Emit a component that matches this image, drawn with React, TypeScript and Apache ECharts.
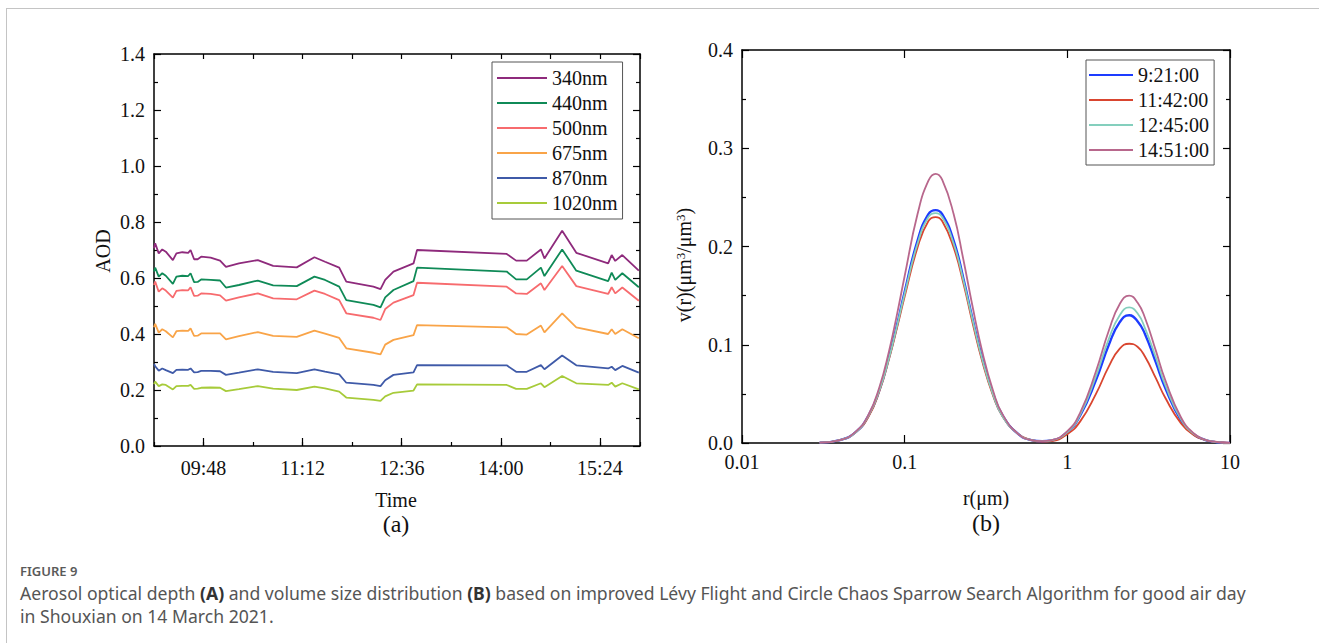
import React, { useEffect, useRef } from "react";
import * as echarts from "echarts";

// ---------- Panel (a): AOD time series ----------
const times = [
  "09:06", "09:07", "09:10", "09:13", "09:16", "09:22", "09:25", "09:30", "09:35", "09:37",
  "09:40", "09:43", "09:46", "09:54", "10:02", "10:07", "10:18", "10:34", "10:47", "11:07",
  "11:22", "11:31", "11:43", "11:49", "12:12", "12:18", "12:22", "12:29", "12:46", "12:49",
  "14:05", "14:13", "14:22", "14:34", "14:37", "14:52", "15:04", "15:31", "15:34", "15:37",
  "15:43", "15:57",
];
const aod340 = [
  0.706, 0.724, 0.688, 0.702, 0.694, 0.664, 0.688, 0.692, 0.69, 0.70,
  0.667, 0.667, 0.676, 0.673, 0.662, 0.640, 0.652, 0.664, 0.643, 0.638,
  0.674, 0.658, 0.637, 0.587, 0.569, 0.56, 0.593, 0.623, 0.652, 0.70,
  0.686, 0.662, 0.662, 0.702, 0.670, 0.769, 0.690, 0.652, 0.682, 0.661,
  0.682, 0.626,
];
const aod440 = [
  0.623, 0.637, 0.605, 0.617, 0.608, 0.579, 0.605, 0.608, 0.607, 0.617,
  0.585, 0.586, 0.595, 0.593, 0.591, 0.566, 0.575, 0.591, 0.574, 0.571,
  0.605, 0.593, 0.569, 0.521, 0.504, 0.495, 0.531, 0.557, 0.589, 0.637,
  0.623, 0.595, 0.595, 0.637, 0.607, 0.702, 0.626, 0.589, 0.619, 0.593,
  0.617, 0.567,
];
const aod500 = [
  0.575, 0.587, 0.551, 0.563, 0.555, 0.530, 0.554, 0.557, 0.556, 0.567,
  0.536, 0.537, 0.545, 0.543, 0.538, 0.519, 0.531, 0.545, 0.527, 0.524,
  0.555, 0.543, 0.521, 0.474, 0.458, 0.450, 0.489, 0.512, 0.539, 0.583,
  0.569, 0.545, 0.543, 0.581, 0.557, 0.643, 0.571, 0.543, 0.567, 0.545,
  0.566, 0.519,
];
const aod675 = [
  0.424, 0.436, 0.405, 0.417, 0.41, 0.388, 0.41, 0.412, 0.411, 0.420,
  0.393, 0.394, 0.402, 0.402, 0.402, 0.381, 0.392, 0.407, 0.393, 0.39,
  0.412, 0.401, 0.386, 0.349, 0.333, 0.327, 0.362, 0.379, 0.396, 0.432,
  0.424, 0.40, 0.398, 0.43, 0.406, 0.474, 0.424, 0.40, 0.417, 0.40,
  0.417, 0.385,
];
const aod870 = [
  0.293, 0.285, 0.269, 0.277, 0.271, 0.26, 0.272, 0.273, 0.272, 0.277,
  0.263, 0.264, 0.268, 0.268, 0.267, 0.254, 0.262, 0.274, 0.265, 0.26,
  0.274, 0.266, 0.256, 0.226, 0.218, 0.214, 0.235, 0.254, 0.263, 0.289,
  0.288, 0.265, 0.265, 0.289, 0.274, 0.323, 0.288, 0.277, 0.283, 0.271,
  0.286, 0.262,
];
const aod1020 = [
  0.221, 0.23, 0.214, 0.22, 0.218, 0.202, 0.214, 0.215, 0.215, 0.218,
  0.204, 0.205, 0.208, 0.209, 0.208, 0.196, 0.203, 0.214, 0.205, 0.2,
  0.212, 0.206, 0.194, 0.173, 0.165, 0.161, 0.177, 0.19, 0.198, 0.22,
  0.218, 0.204, 0.204, 0.224, 0.21, 0.25, 0.224, 0.218, 0.226, 0.212,
  0.224, 0.202,
];
const wavelengthNames = ["340nm", "440nm", "500nm", "675nm", "870nm", "1020nm"];
const aodSeries = [aod340, aod440, aod500, aod675, aod870, aod1020];

// ---------- Panel (b): volume size distribution ----------
const radii = [
  0.03, 0.04, 0.05, 0.06, 0.07, 0.08, 0.09, 0.1, 0.12, 0.14, 0.155, 0.17, 0.2, 0.23, 0.26,
  0.3, 0.35, 0.4, 0.5, 0.6, 0.7, 0.8, 1.0, 1.2, 1.5, 1.8, 2.1, 2.4, 2.7, 3.0, 3.5, 4, 5, 6,
  7, 8, 9, 10,
];
const vr0921 = [
  0.0003, 0.003, 0.011, 0.028, 0.054, 0.087, 0.121, 0.154, 0.206, 0.233, 0.237, 0.233, 0.206, 0.167, 0.128,
  0.086, 0.050, 0.028, 0.009, 0.003, 0.0018, 0.0026, 0.011, 0.028, 0.064, 0.100, 0.123, 0.130, 0.124, 0.111,
  0.082, 0.056, 0.023, 0.0087, 0.0033, 0.0012, 0.0004, 0.0001,
];
const vr1142 = [
  0.0003, 0.003, 0.011, 0.027, 0.053, 0.085, 0.118, 0.149, 0.199, 0.226, 0.230, 0.226, 0.199, 0.162, 0.124,
  0.083, 0.048, 0.027, 0.009, 0.003, 0.0015, 0.002, 0.009, 0.022, 0.050, 0.078, 0.096, 0.101, 0.098, 0.088,
  0.066, 0.046, 0.020, 0.008, 0.0032, 0.0013, 0.0005, 0.0001,
];
const vr1245 = [
  0.0003, 0.003, 0.011, 0.028, 0.054, 0.086, 0.120, 0.152, 0.203, 0.230, 0.234, 0.230, 0.203, 0.165, 0.127,
  0.085, 0.049, 0.027, 0.009, 0.003, 0.0019, 0.0028, 0.011, 0.029, 0.068, 0.106, 0.130, 0.138, 0.132, 0.117,
  0.087, 0.059, 0.024, 0.0091, 0.0034, 0.0012, 0.0004, 0.0001,
];
const vr1451 = [
  0.0003, 0.003, 0.0115, 0.029, 0.057, 0.093, 0.132, 0.170, 0.233, 0.267, 0.274, 0.268, 0.233, 0.186, 0.141,
  0.093, 0.053, 0.029, 0.009, 0.003, 0.002, 0.003, 0.012, 0.031, 0.073, 0.1145, 0.1415, 0.150, 0.143, 0.1275,
  0.094, 0.064, 0.026, 0.0097, 0.0036, 0.0013, 0.0005, 0.0001,
];
const timeNames = ["9:21:00", "11:42:00", "12:45:00", "14:51:00"];
const vrSeries = [vr0921, vr1142, vr1245, vr1451];

const aodColors = ["#8e2a7c", "#0f8a57", "#f76b6e", "#f9a448", "#3f5aa8", "#a7cb3a"];
const vrColors = ["#1d3cff", "#d9452f", "#84cfbd", "#b8678c"];

const SERIF = "Liberation Serif";
const SANS = "Noto Sans";

const toMin = (s: string) => {
  const [h, m] = s.split(":").map(Number);
  return h * 60 + m;
};
const pad = (n: number) => (n < 10 ? "0" + n : String(n));
const fmtTime = (v: number) => pad(Math.floor(v / 60)) + ":" + pad(Math.round(v % 60));

export default function App() {
  const ref = useRef<HTMLDivElement>(null);

  useEffect(() => {
    if (!ref.current) return;
    const chart = echarts.init(ref.current, null, { renderer: "svg" });

    const tMin = 546; // 09:06
    const tMax = 958;
    const A = { left: 154, top: 54, width: 486, height: 392 };
    const B = { left: 742, top: 50, width: 488, height: 393 };
    const pxPerMin = A.width / (tMax - tMin);
    const majorStart = 588; // 09:48
    const majorEnd = 924; // 15:24

    const tickStyle = { color: "#000", width: 1.2 };
    const lineStyle = { color: "#000", width: 1.5 };
    const labelStyle = { fontFamily: SERIF, fontSize: 20, color: "#111" };
    const g = (o: any) => ({ containLabel: false, outerBoundsMode: "none", ...o });
    const hiddenX = (gi: number) => ({ gridIndex: gi, type: "value", min: 0, max: 1, show: false });
    const hiddenY = (gi: number) => ({ gridIndex: gi, type: "value", min: 0, max: 1, show: false });

    const option: any = {
      animation: false,
      backgroundColor: "#fff",
      grid: [
        g({ ...A }),
        g({ ...B }),
        g({ left: A.left + (majorStart - tMin) * pxPerMin, top: A.top, width: (majorEnd - majorStart) * pxPerMin, height: A.height }),
        g({ left: A.left + A.width, top: A.top, width: 20, height: A.height }),
        g({ left: A.left, top: A.top - 20, width: A.width, height: 20 }),
        g({ left: B.left + B.width, top: B.top, width: 20, height: B.height }),
        g({ left: B.left, top: B.top - 20, width: B.width, height: 20 }),
      ],
      xAxis: [
        {
          gridIndex: 0, type: "value", position: "bottom", min: tMin, max: tMax, interval: 42,
          axisLine: { show: true, onZero: false, lineStyle },
          axisTick: { show: true, inside: true, length: 4, lineStyle: tickStyle },
          axisLabel: { show: false }, splitLine: { show: false },
        },
        {
          gridIndex: 2, type: "value", position: "bottom", min: majorStart, max: majorEnd, interval: 84,
          axisLine: { show: false, onZero: false },
          axisTick: { show: true, inside: true, length: 8, lineStyle: tickStyle },
          axisLabel: { show: true, margin: 12, formatter: (v: number) => fmtTime(v), ...labelStyle },
          splitLine: { show: false },
        },
        {
          gridIndex: 1, type: "log", logBase: 10, position: "bottom", min: 0.01, max: 10,
          axisLine: { show: true, onZero: false, lineStyle },
          axisTick: { show: true, inside: true, length: 8, lineStyle: tickStyle },
          axisLabel: {
            show: true, margin: 9,
            formatter: (v: number) => (v >= 1 ? String(Math.round(v)) : String(Number(v.toPrecision(1)))),
            ...labelStyle,
          },
          splitLine: { show: false },
        },
        hiddenX(3),
        {
          gridIndex: 4, type: "value", position: "bottom", min: tMin, max: tMax, interval: 42,
          axisLine: { show: true, onZero: false, lineStyle },
          axisTick: { show: true, inside: false, length: 5, lineStyle: tickStyle },
          axisLabel: { show: false }, splitLine: { show: false },
        },
        hiddenX(5),
        {
          gridIndex: 6, type: "log", logBase: 10, position: "bottom", min: 0.01, max: 10,
          axisLine: { show: true, onZero: false, lineStyle },
          axisTick: { show: true, inside: false, length: 8, lineStyle: tickStyle },
          axisLabel: { show: false }, splitLine: { show: false },
        },
      ],
      yAxis: [
        {
          gridIndex: 0, type: "value", position: "left", min: 0, max: 1.4, interval: 0.2,
          axisLine: { show: true, onZero: false, lineStyle },
          axisTick: { show: true, inside: true, length: 7, lineStyle: tickStyle },
          minorTick: { show: true, splitNumber: 2, length: 4, lineStyle: tickStyle },
          axisLabel: { show: true, margin: 9, formatter: (v: number) => v.toFixed(1), ...labelStyle },
          splitLine: { show: false },
        },
        { gridIndex: 2, type: "value", min: 0, max: 1.4, show: false },
        {
          gridIndex: 1, type: "value", position: "left", min: 0, max: 0.4, interval: 0.1,
          axisLine: { show: true, onZero: false, lineStyle },
          axisTick: { show: true, inside: true, length: 7, lineStyle: tickStyle },
          minorTick: { show: true, splitNumber: 2, length: 4, lineStyle: tickStyle },
          axisLabel: { show: true, margin: 9, formatter: (v: number) => v.toFixed(1), ...labelStyle },
          splitLine: { show: false },
        },
        {
          gridIndex: 3, type: "value", position: "left", min: 0, max: 1.4, interval: 0.2,
          axisLine: { show: true, onZero: false, lineStyle },
          axisTick: { show: true, inside: false, length: 7, lineStyle: tickStyle },
          minorTick: { show: true, splitNumber: 2, length: 4, lineStyle: tickStyle },
          axisLabel: { show: false }, splitLine: { show: false },
        },
        hiddenY(4),
        {
          gridIndex: 5, type: "value", position: "left", min: 0, max: 0.4, interval: 0.1,
          axisLine: { show: true, onZero: false, lineStyle },
          axisTick: { show: true, inside: false, length: 7, lineStyle: tickStyle },
          minorTick: { show: true, splitNumber: 2, length: 4, lineStyle: tickStyle },
          axisLabel: { show: false }, splitLine: { show: false },
        },
        hiddenY(6),
      ],
      legend: [
        {
          data: wavelengthNames,
          orient: "vertical", left: 492, top: 62,
          icon: "rect", itemWidth: 50, itemHeight: 2, itemGap: 5,
          padding: [6, 5, 6, 5],
          borderColor: "#555", borderWidth: 1,
          textStyle: { fontFamily: SERIF, fontSize: 20, color: "#111", lineHeight: 20 },
          selectedMode: false,
        },
        {
          data: timeNames,
          orient: "vertical", left: 1086, top: 60,
          icon: "rect", itemWidth: 44, itemHeight: 2, itemGap: 5,
          padding: [5, 5, 5, 3],
          borderColor: "#555", borderWidth: 1,
          textStyle: { fontFamily: SERIF, fontSize: 20, color: "#111", lineHeight: 20 },
          selectedMode: false,
        },
      ],
      series: [
        ...aodSeries.map((vals, i) => ({
          name: wavelengthNames[i],
          type: "line",
          xAxisIndex: 0,
          yAxisIndex: 0,
          data: times.map((t, k) => [toMin(t), vals[k]]),
          symbol: "none",
          color: aodColors[i],
          lineStyle: { color: aodColors[i], width: 1.8 },
          z: 3,
        })),
        ...vrSeries.map((vals, i) => ({
          name: timeNames[i],
          type: "line",
          xAxisIndex: 2,
          yAxisIndex: 2,
          data: radii.map((r, k) => [r, vals[k]]),
          symbol: "none",
          smooth: true,
          color: vrColors[i],
          lineStyle: { color: vrColors[i], width: i === 0 ? 2.4 : 1.8 },
          z: 3,
        })),
      ],
      graphic: [
        { type: "line", shape: { x1: 6, y1: 8.5, x2: 1319, y2: 8.5 }, style: { stroke: "#c4c4c4", lineWidth: 1 } },
        { type: "line", shape: { x1: 6.5, y1: 8, x2: 6.5, y2: 643 }, style: { stroke: "#c4c4c4", lineWidth: 1 } },
        {
          type: "text", x: 103, y: 251, rotation: Math.PI / 2,
          style: { text: "AOD", font: `20px "${SERIF}"`, fill: "#111", align: "center", verticalAlign: "middle" },
        },
        {
          type: "text", x: 396, y: 500,
          style: { text: "Time", font: `20px "${SERIF}"`, fill: "#111", align: "center", verticalAlign: "middle" },
        },
        {
          type: "text", x: 396, y: 524,
          style: { text: "(a)", font: `24px "${SERIF}"`, fill: "#111", align: "center", verticalAlign: "middle" },
        },
        {
          type: "text", x: 684, y: 265, rotation: Math.PI / 2,
          style: {
            text: "v(r)(μm{s|3}/μm{s|3})",
            font: `20px "${SERIF}"`, fill: "#111", align: "center", verticalAlign: "middle",
            rich: { s: { fontFamily: SERIF, fontSize: 13, verticalAlign: "top", lineHeight: 20, padding: [0, 0, 8, 0], fill: "#111" } },
          },
        },
        {
          type: "text", x: 986, y: 498,
          style: { text: "r(μm)", font: `20px "${SERIF}"`, fill: "#111", align: "center", verticalAlign: "middle" },
        },
        {
          type: "text", x: 986, y: 523,
          style: { text: "(b)", font: `24px "${SERIF}"`, fill: "#111", align: "center", verticalAlign: "middle" },
        },
        {
          type: "text", x: 20, y: 571,
          style: { text: "FIGURE 9", font: `600 13px "${SANS}"`, fill: "#5a5a5a", verticalAlign: "middle" },
        },
        {
          type: "text", x: 20, y: 593,
          style: {
            text: "{n|Aerosol optical depth }{b|(A)}{n| and volume size distribution }{b|(B)}{n| based on improved Lévy Flight and Circle Chaos Sparrow Search Algorithm for good air day}",
            verticalAlign: "middle",
            rich: {
              n: { fontFamily: SANS, fontSize: 17.6, fill: "#555" },
              b: { fontFamily: SANS, fontSize: 17.6, fontWeight: "bold", fill: "#333" },
            },
          },
        },
        {
          type: "text", x: 20, y: 616,
          style: { text: "in Shouxian on 14 March 2021.", font: `17.6px "${SANS}"`, fill: "#555", verticalAlign: "middle" },
        },
      ],
    };

    chart.setOption(option);
    return () => chart.dispose();
  }, []);

  return (
    <div
      ref={ref}
      style={{ position: "absolute", left: 0, top: 0, width: 1319, height: 643, background: "#fff" }}
    />
  );
}
